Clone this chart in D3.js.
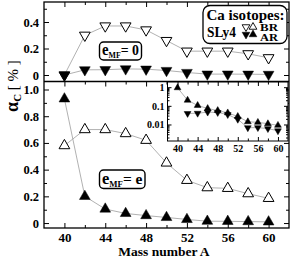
<!DOCTYPE html>
<html lang="en">
<head>
    <meta charset="UTF-8">
    <title>Ca isotopes</title>
    <style>
        body { margin: 0; background: #fff; }
        text { font-family: "Liberation Serif", "Times New Roman", serif; font-weight: bold; fill: #000; }
        .domain { display: none; }
        .tick line { stroke: #000; stroke-width: 1; }
    </style>
</head>
<body>
    <svg width="291" height="258" id="svg"></svg>
    <script src="https://d3js.org/d3.v7.min.js"></script>
    <script>
        // mass number A
        const mass = [40, 42, 44, 46, 48, 50, 52, 54, 56, 58, 60]
        // e_MF = 0 panel (top)
        const brZero = [0, 0.30, 0.37, 0.37, 0.34, 0.26, 0.18, 0.18, 0.18, 0.16, 0.13]
        const arZero = [0, 0.039, 0.04, 0.046, 0.044, 0.034, 0.019, 0.0067, 0.0068, 0.006, 0.0046]
        // e_MF = e panel (bottom)
        const brE = [0.58, 0.70, 0.70, 0.67, 0.62, 0.45, 0.32, 0.265, 0.26, 0.22, 0.185]
        const arE = [0.93, 0.20, 0.105, 0.072, 0.056, 0.042, 0.027, 0.014, 0.013, 0.011, 0.009]
        // tick labels
        const xLabels = [40, 44, 48, 52, 56, 60]
        const topLabels = [0, 0.2, 0.4]
        const bottomLabels = [0, 0.2, 0.4, 0.6, 0.8, 1.0]
        const insetLabels = [1, 0.1, 0.01]

        const svg = d3.select("svg#svg")
        const frame = { left: 44, right: 289, top: 2, mid: 81.5, bottom: 228 }
        const inset = { left: 167.5, right: 288, top: 82, bottom: 141 }

        const xScale = d3.scaleLinear().domain([38, 62]).range([frame.left, frame.right])
        const yTop = d3.scaleLinear().domain([-0.049, 0.551]).range([frame.mid, frame.top])
        const yBot = d3.scaleLinear().domain([-0.037, 1.06]).range([frame.bottom, frame.mid])
        const xIn = d3.scaleLinear().domain([38, 62]).range([inset.left, inset.right])
        const yIn = d3.scaleLog().domain([0.0013, 1.9]).range([inset.bottom, inset.top])

        const fmt = d => d === 0 ? "0" : d.toFixed(1)
        const everyTwo = d3.range(40, 61, 2)

        // axes (inward ticks)
        function ticksX(sc, y, dir, len, vals, labels, size, pad) {
            const ax = (dir === "bottom" ? d3.axisBottom(sc) : d3.axisTop(sc))
                .tickValues(vals).tickSize(-len).tickPadding(pad || 6)
            if (!labels) ax.tickFormat("")
            const g = svg.append("g").attr("transform", `translate(0,${y})`).call(ax)
            g.selectAll("text").style("font-size", (size || 13) + "px")
            return g
        }
        function ticksY(sc, x, dir, len, vals, labels, size, pad, f) {
            const ax = (dir === "left" ? d3.axisLeft(sc) : d3.axisRight(sc))
                .tickValues(vals).tickSize(-len).tickPadding(pad || 6)
            ax.tickFormat(labels ? (f || fmt) : "")
            const g = svg.append("g").attr("transform", `translate(${x},0)`).call(ax)
            g.selectAll("text").style("font-size", (size || 13) + "px")
            return g
        }

        // x ticks on all horizontal edges
        ticksX(xScale, frame.bottom, "bottom", 5, xLabels, true, 13, 5)
        ticksX(xScale, frame.bottom, "bottom", 3, everyTwo.filter(d => d % 4 !== 0), false)
        ticksX(xScale, frame.top, "top", 5, xLabels, false)
        ticksX(xScale, frame.top, "top", 3, everyTwo.filter(d => d % 4 !== 0), false)
        ticksX(xScale, frame.mid, "bottom", -5, xLabels, false)
        ticksX(xScale, frame.mid, "bottom", -3, everyTwo.filter(d => d % 4 !== 0), false)

        // y ticks
        const topMinor = d3.range(0.1, 0.55, 0.2)
        const botMinor = d3.range(0.1, 1.0, 0.2)
        ticksY(yTop, frame.left, "left", 5, topLabels, true, 12.5, 5)
        ticksY(yTop, frame.left, "left", 3, topMinor, false)
        ticksY(yTop, frame.right, "right", 5, topLabels, false)
        ticksY(yTop, frame.right, "right", 3, topMinor, false)
        ticksY(yBot, frame.left, "left", 5, bottomLabels, true, 12.5, 5)
        ticksY(yBot, frame.left, "left", 3, botMinor, false)
        ticksY(yBot, frame.right, "right", 5, bottomLabels, false)
        ticksY(yBot, frame.right, "right", 3, botMinor, false)

        // frames
        svg.append("rect").attr("x", frame.left).attr("y", frame.top)
            .attr("width", frame.right - frame.left).attr("height", frame.bottom - frame.top)
            .attr("fill", "none").attr("stroke", "#000").attr("stroke-width", 1.3)
        svg.append("line").attr("x1", frame.left).attr("x2", frame.right)
            .attr("y1", frame.mid).attr("y2", frame.mid).attr("stroke", "#000").attr("stroke-width", 1.3)

        const up = d3.symbol().type(d3.symbolTriangle)
        function series(xs, ys, vals, opts) {
            const pts = mass.map((m, i) => ({ m: m, v: vals[i] })).filter(d => !opts.skipZero || d.v > 0)
            const line = d3.line().x(d => xs(d.m)).y(d => ys(d.v))
            svg.append("path").attr("d", line(pts)).attr("fill", "none")
                .attr("stroke", "#a8a8a8").attr("stroke-width", 0.9)
            return pts
        }
        function marks(xs, ys, pts, opts) {
            svg.append("g").selectAll("path").data(pts).enter().append("path")
                .attr("d", up.size(opts.size)())
                .attr("transform", d => `translate(${xs(d.m)},${ys(d.v)}) rotate(${opts.down ? 180 : 0})`)
                .attr("fill", opts.filled ? "#000" : "#fff")
                .attr("stroke", "#000").attr("stroke-width", opts.filled ? 0.5 : 1)
        }

        // top panel
        const pBrZ = series(xScale, yTop, brZero, {})
        const pArZ = series(xScale, yTop, arZero, {})
        marks(xScale, yTop, pBrZ, { size: 50, down: true })
        marks(xScale, yTop, pArZ, { size: 50, down: true, filled: true })

        // bottom panel
        const pBrE = series(xScale, yBot, brE, {})
        const pArE = series(xScale, yBot, arE, {})
        marks(xScale, yBot, pBrE, { size: 50 })
        marks(xScale, yBot, pArE, { size: 50, filled: true })

        // inset (log scale)
        svg.append("rect").attr("x", inset.left).attr("y", inset.top)
            .attr("width", inset.right - inset.left).attr("height", inset.bottom - inset.top)
            .attr("fill", "#fff").attr("stroke", "#000").attr("stroke-width", 1)
        const insetMinor = []
        ;[0.001, 0.01, 0.1, 1].forEach(p => { for (let k = 2; k <= 9; k++) if (p * k > 0.0013 && p * k < 1.9) insetMinor.push(p * k) })
        const inFmt = d => String(d)
        ticksX(xIn, inset.bottom, "bottom", 4, xLabels, true, 10, 4)
        ticksX(xIn, inset.bottom, "bottom", 2.5, everyTwo.filter(d => d % 4 !== 0), false)
        ticksX(xIn, inset.top, "top", 4, xLabels, false)
        ticksX(xIn, inset.top, "top", 2.5, everyTwo.filter(d => d % 4 !== 0), false)
        ticksY(yIn, inset.left, "left", 4, insetLabels, true, 10, 3, inFmt)
        ticksY(yIn, inset.left, "left", 2, insetMinor, false)
        ticksY(yIn, inset.right, "right", 4, insetLabels, false)
        ticksY(yIn, inset.right, "right", 2, insetMinor, false)

        const iArZ = series(xIn, yIn, arZero, { skipZero: true })
        const iArE = series(xIn, yIn, arE, { skipZero: true })
        marks(xIn, yIn, iArZ, { size: 20, down: true, filled: true })
        marks(xIn, yIn, iArE, { size: 20, filled: true })

        // labels in panels
        function tag(x, y, w, h, last) {
            svg.append("rect").attr("x", x).attr("y", y).attr("width", w).attr("height", h)
                .attr("rx", 4).attr("fill", "#fff").attr("stroke", "#000").attr("stroke-width", 1.4)
            const t = svg.append("text").attr("x", x + 2.5).attr("y", y + h - 5)
                .attr("textLength", w - 5).attr("lengthAdjust", "spacingAndGlyphs")
            t.append("tspan").style("font-size", "16px").text("e")
            t.append("tspan").style("font-size", "8.5px").attr("dy", 3).text("MF")
            t.append("tspan").style("font-size", "15px").attr("dy", -3).text("= " + last)
        }
        tag(99.5, 42, 42, 18, "0")
        tag(99.5, 170, 45.5, 18.5, "e")

        // legend
        svg.append("rect").attr("x", 203).attr("y", 5.5).attr("width", 84).attr("height", 38)
            .attr("rx", 7).attr("fill", "#fff").attr("stroke", "#000").attr("stroke-width", 1.3)
        svg.append("text").attr("x", 206.5).attr("y", 19.5).style("font-size", "15px")
            .attr("textLength", 78).attr("lengthAdjust", "spacingAndGlyphs").text("Ca isotopes:")
        svg.append("text").attr("x", 207).attr("y", 36.5).style("font-size", "14.5px")
            .attr("textLength", 29).attr("lengthAdjust", "spacingAndGlyphs").text("SLy4")
        svg.append("text").attr("x", 260).attr("y", 30.5).style("font-size", "10.5px")
            .attr("textLength", 18).attr("lengthAdjust", "spacingAndGlyphs").text("BR")
        svg.append("text").attr("x", 260).attr("y", 41).style("font-size", "10.5px")
            .attr("textLength", 18).attr("lengthAdjust", "spacingAndGlyphs").text("AR")
        const legendSyms = [
            { x: 246, y: 27, down: true, filled: false },
            { x: 253, y: 27, down: false, filled: false },
            { x: 246, y: 34.5, down: true, filled: true },
            { x: 253, y: 34.5, down: false, filled: true }
        ]
        svg.append("g").selectAll("path").data(legendSyms).enter().append("path")
            .attr("d", up.size(26)())
            .attr("transform", d => `translate(${d.x},${d.y}) rotate(${d.down ? 180 : 0})`)
            .attr("fill", d => d.filled ? "#000" : "#fff")
            .attr("stroke", "#000").attr("stroke-width", d => d.filled ? 0.5 : 0.9)

        // axis titles
        svg.append("text").attr("x", 164).attr("y", 256).attr("text-anchor", "middle")
            .style("font-size", "13.5px").text("Mass number A")
        const yt = svg.append("text").attr("transform", "translate(18,86) rotate(-90)").attr("text-anchor", "middle")
        yt.append("tspan").style("font-size", "18px").text("α")
        yt.append("tspan").style("font-size", "11px").attr("dy", 2.5).text("C")
        yt.append("tspan").style("font-size", "15px").style("font-weight", "normal").attr("dy", -2.5).text(" [ % ]")
    </script>
</body>
</html>
